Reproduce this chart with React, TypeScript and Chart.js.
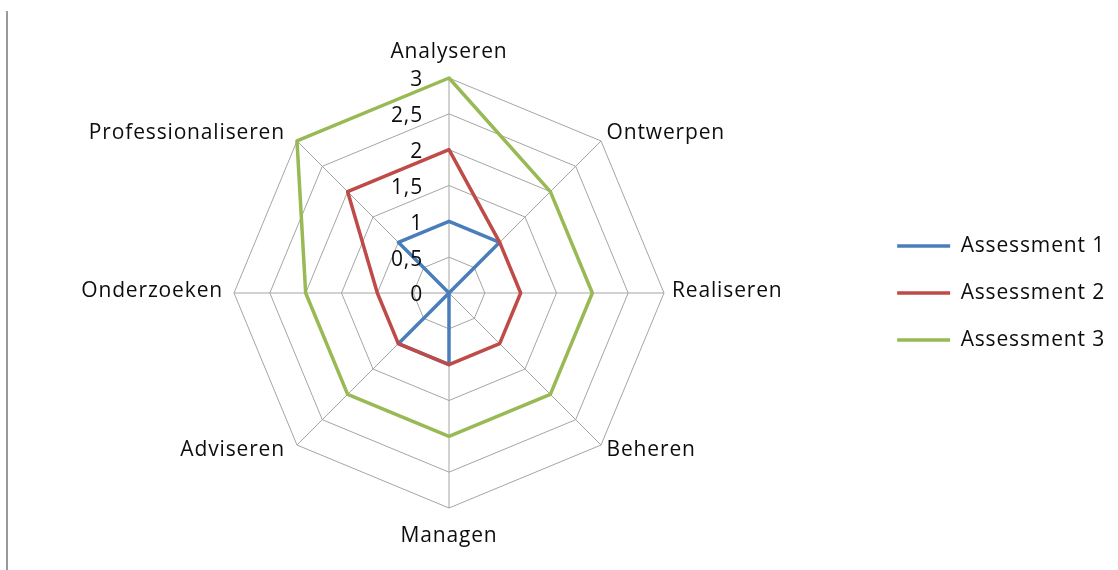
import React, { useEffect, useRef } from "react";
import { Chart, registerables } from "chart.js";

Chart.register(...registerables);

const categories = [
  "Analyseren",
  "Ontwerpen",
  "Realiseren",
  "Beheren",
  "Managen",
  "Adviseren",
  "Onderzoeken",
  "Professionaliseren",
];
const assessment1 = [1, 1, 0, 0, 1, 1, 0, 1];
const assessment2 = [2, 1, 1, 1, 1, 1, 1, 2];
const assessment3 = [3, 2, 2, 2, 2, 2, 2, 3];
const seriesNames = ["Assessment 1", "Assessment 2", "Assessment 3"];
const tickValues = [0, 0.5, 1, 1.5, 2, 2.5, 3];
const tickLabels = ["0", "0,5", "1", "1,5", "2", "2,5", "3"];

const FONT = "'Open Sans', 'Noto Sans', sans-serif";
const FONT_SIZE = 21;
const LETTER_SPACING = "0.85px";
const TEXT_COLOR = "#0d0d0d";

const spacingPlugin = {
  id: "letterSpacing",
  beforeLayout(chart: any) {
    chart.ctx.letterSpacing = LETTER_SPACING;
  },
  beforeDraw(chart: any) {
    chart.ctx.letterSpacing = LETTER_SPACING;
  },
};

const radarLabelsPlugin = {
  id: "radarLabels",
  afterDatasetsDraw(chart: any) {
    const scale = chart.scales.r;
    const ctx = chart.ctx;
    ctx.save();
    ctx.letterSpacing = LETTER_SPACING;
    ctx.font = `${FONT_SIZE}px ${FONT}`;
    ctx.fillStyle = TEXT_COLOR;
    // tick labels, left of the vertical axis
    ctx.textAlign = "right";
    ctx.textBaseline = "middle";
    tickValues.forEach((v, i) => {
      const d = scale.getDistanceFromCenterForValue(v);
      ctx.fillText(tickLabels[i], scale.xCenter - 26, scale.yCenter - d + 2.5);
    });
    // category labels
    const r = scale.drawingArea;
    categories.forEach((label, i) => {
      const deg = Math.round((scale.getIndexAngle(i) * 180) / Math.PI) % 360;
      const c = scale.getPointPosition(i, r);
      let x = c.x;
      let y = c.y;
      let align: CanvasTextAlign = "center";
      let baseline: CanvasTextBaseline = "middle";
      if (deg === 0) {
        y = c.y - 20;
        baseline = "alphabetic";
      } else if (deg === 180) {
        y = c.y + 34;
        baseline = "alphabetic";
      } else {
        const side = deg === 90 || deg === 270;
        const upper = deg < 90 || deg > 270;
        const right = deg < 180;
        align = right ? "left" : "right";
        x = right ? c.x + (side ? 8 : 5.5) : c.x - (side ? 11 : 12);
        y = c.y + (side ? -1.5 : upper ? -7.5 : 4.5);
      }
      ctx.textAlign = align;
      ctx.textBaseline = baseline;
      ctx.fillText(label, x, y);
    });
    ctx.restore();
  },
};

export default function App() {
  const canvasRef = useRef<HTMLCanvasElement>(null);

  useEffect(() => {
    if (!canvasRef.current) return;
    const mk = (label: string, data: number[], color: string, order: number) => ({
      label,
      data,
      borderColor: color,
      backgroundColor: color,
      borderWidth: 3.5,
      borderCapStyle: "round" as const,
      borderJoinStyle: "round" as const,
      pointRadius: 0,
      pointHoverRadius: 0,
      fill: false,
      tension: 0,
      order,
    });
    const chart = new Chart(canvasRef.current, {
      type: "radar",
      data: {
        labels: categories,
        datasets: [
          mk(seriesNames[0], assessment1, "#4a7ebb", 3),
          mk(seriesNames[1], assessment2, "#be4b48", 2),
          mk(seriesNames[2], assessment3, "#98b954", 1),
        ],
      },
      options: {
        animation: false,
        responsive: false,
        maintainAspectRatio: false,
        layout: { padding: { left: 28, right: 3, top: 78, bottom: 62 } },
        scales: {
          r: {
            min: 0,
            max: 3,
            ticks: { stepSize: 0.5, display: false },
            grid: { color: "#a5a5a5", lineWidth: 1 },
            angleLines: { color: "#a5a5a5", lineWidth: 1 },
            pointLabels: { display: false },
          },
        },
        plugins: {
          tooltip: { enabled: false },
          legend: {
            position: "right",
            reverse: true,
            labels: {
              usePointStyle: true,
              pointStyle: "line",
              pointStyleWidth: 53,
              padding: 26,
              color: TEXT_COLOR,
              font: { family: FONT, size: FONT_SIZE },
            },
          },
        },
      },
      plugins: [spacingPlugin, radarLabelsPlugin],
    });
    return () => chart.destroy();
  }, []);

  return (
    <div style={{ position: "fixed", left: 0, top: 0, width: 1118, height: 570, background: "#fff" }}>
      <div style={{ position: "absolute", left: 6, top: 11, width: 2, height: 559, background: "#9a9a9a" }} />
      <canvas ref={canvasRef} width={1118} height={570} style={{ position: "absolute", left: 0, top: 0 }} />
    </div>
  );
}
